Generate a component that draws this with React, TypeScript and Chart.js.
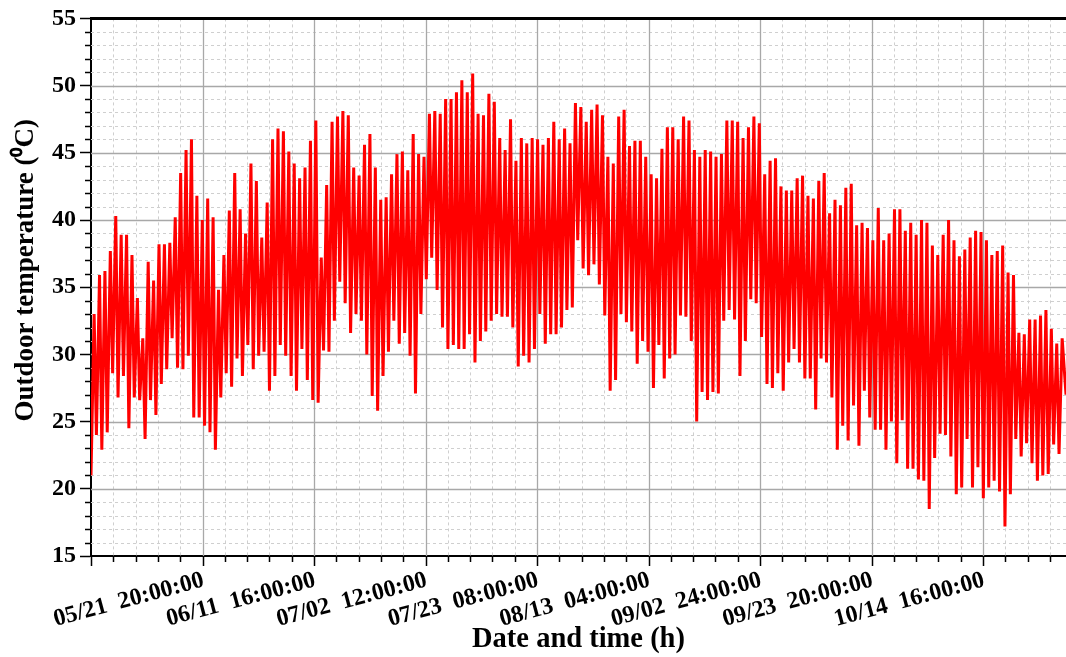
import React, { useEffect, useRef } from "react";
import { Chart, registerables } from "chart.js";

Chart.register(...registerables);

// ---- data ----
// one low (early morning) and one high (afternoon) per day, starting 05/21
const dailyLows = [
  21, 24, 22.9, 24.2, 28.6, 26.8, 28.4, 24.5, 26.8, 26.6, 23.7, 26.6, 25.5, 27.8, 28.9, 31.2, 29, 28.9, 29.9, 25.3,
  25.3, 24.7, 24.2, 22.9, 26.8, 28.6, 27.6, 29.7, 28.4, 30.7, 28.9, 29.9, 30.2, 27.3, 28.4, 30.7, 29.9, 28.4, 27.3, 30.4, 28.1, 26.6,
  26.4, 30.3, 30.2, 32.5, 35.4, 33.8, 31.6, 33, 32.5, 30, 26.9, 25.8, 28.4, 30.2, 32.5, 30.8, 31.6, 29.9, 27.1, 33, 35.6, 37.2,
  34.8, 32, 30.4, 30.7, 30.4, 30.4, 31.5, 29.4, 31, 31.7, 32.5, 33, 32.8, 32.8, 32, 29.1, 29.9, 29.4, 30.4, 33, 30.8, 31.5,
  31.5, 32, 33.3, 33.5, 38.5, 36.4, 35.9, 36.7, 35.2, 32.9, 27.3, 28.1, 33, 32.4, 31.7, 29.3, 31, 30.2, 27.5, 30.7, 28.2, 29.7,
  30, 32.9, 32.8, 31, 25, 27.2, 26.6, 27.2, 27.1, 32.5, 33.3, 32.6, 28.4, 31, 34.1, 33.8, 31.3, 27.8, 27.5, 28.6, 27.3, 29.4, 30.4,
  29.4, 28.2, 28.2, 25.9, 29.7, 29.4, 26.8, 22.9, 24.7, 23.6, 26.2, 23.2, 27.3, 25.3, 24.4, 24.4, 22.9, 25, 21.9, 25.1, 21.5, 21.5,
  20.7, 20.6, 18.5, 22.3, 24.1, 24, 22.4, 19.6, 20.1, 23.7, 20.1, 21.6, 19.3, 20.1, 20.6, 19.8, 17.2, 19.6, 23.7, 22.4, 23.4, 21.9,
  20.6, 21, 21.1, 23.3, 22.6,
];

const dailyHighs = [
  33, 35.9, 36.2, 37.7, 40.3, 38.9, 38.9, 37.4, 34.2, 31.2, 36.9, 35.5, 38.2, 38.2, 38.3, 40.2, 43.5, 45.2, 46, 41.8,
  40, 41.6, 40.2, 34.8, 37.4, 40.7, 43.5, 40.8, 39, 44.2, 42.9, 38.7, 41.3, 46, 46.8, 46.6, 45.1, 44.2, 43.1, 43.9, 45.9, 47.4,
  37.2, 42.6, 47.3, 47.7, 48.1, 47.8, 43.9, 43.3, 45.6, 46.4, 43.9, 41.5, 41.7, 43.4, 44.9, 45.1, 43.7, 46.4, 44.9, 44.7, 47.9, 48.1,
  47.9, 49, 49, 49.5, 50.4, 49.5, 50.9, 47.9, 47.8, 49.4, 48.8, 46.1, 45.2, 47.5, 44.4, 46.1, 45.7, 46.1, 46, 45.6, 46.1, 47.3,
  46, 46.8, 45.7, 48.7, 48.4, 47.3, 48.2, 48.6, 47.8, 44.7, 44.2, 47.7, 48.2, 45.5, 45.9, 45.9, 44.7, 43.4, 43.1, 45.3, 46.9, 46.9,
  46, 47.7, 47.4, 45.2, 44.7, 45.2, 45.1, 44.7, 44.9, 47.4, 47.4, 47.3, 46.1, 46.9, 47.7, 47.2, 43.4, 44.4, 44.6, 42.5, 42.2, 42.2, 43.1,
  43.3, 41.8, 41.6, 42.9, 43.5, 40.5, 41.5, 41.1, 42.4, 42.7, 39.6, 39.8, 39.4, 38.5, 40.9, 38.5, 39, 40.8, 40.8, 39.2, 39.8, 38.9,
  40, 39.8, 38.1, 37.4, 38.9, 40, 38.5, 37.3, 37.8, 38.7, 39.2, 39.1, 38.5, 37.4, 37.7, 38.1, 36.1, 35.9, 31.6, 31.5, 32.6, 32.6,
  32.9, 33.3, 31.9, 30.8, 31.2,
];

const END_TEMP = 27;

const xTickLabels = [
  "",
  "05/21  20:00:00",
  "06/11  16:00:00",
  "07/02  12:00:00",
  "07/23  08:00:00",
  "08/13  04:00:00",
  "09/02  24:00:00",
  "09/23  20:00:00",
  "10/14  16:00:00",
];

const X_MIN = 0;
const X_MAX = 4372;
const X_MAJOR = 500;
const X_MINOR = 100;
const Y_MIN = 15;
const Y_MAX = 55;
const Y_MAJOR = 5;
const Y_MINOR = 1;
const CYCLE_HOURS = 24.25;
const X_LABEL_ROTATION = 15;

const FONT = "'Liberation Serif', 'Times New Roman', serif";

function buildPoints() {
  const pts: { x: number; y: number }[] = [];
  const n = Math.min(dailyLows.length, dailyHighs.length);
  for (let d = 0; d < n; d++) {
    pts.push({ x: d * CYCLE_HOURS, y: dailyLows[d] });
    pts.push({ x: d * CYCLE_HOURS + 14, y: dailyHighs[d] });
  }
  pts.push({ x: X_MAX, y: END_TEMP });
  return pts;
}

const gridPlugin = {
  id: "customGrid",
  beforeDatasetsDraw(chart: any) {
    const { ctx, chartArea: a, scales } = chart;
    const x = scales.x;
    const y = scales.y;
    ctx.save();
    ctx.lineWidth = 1;
    ctx.strokeStyle = "#cfcfcf";
    ctx.setLineDash([3, 3]);
    ctx.beginPath();
    for (let h = X_MIN + X_MINOR; h < X_MAX; h += X_MINOR) {
      if (h % X_MAJOR === 0) continue;
      const px = Math.round(x.getPixelForValue(h)) + 0.5;
      ctx.moveTo(px, a.top);
      ctx.lineTo(px, a.bottom);
    }
    for (let v = Y_MIN + Y_MINOR; v < Y_MAX; v += Y_MINOR) {
      if (v % Y_MAJOR === 0) continue;
      const py = Math.round(y.getPixelForValue(v)) + 0.5;
      ctx.moveTo(a.left, py);
      ctx.lineTo(a.right, py);
    }
    ctx.stroke();
    ctx.setLineDash([]);
    ctx.strokeStyle = "#a8a8a8";
    ctx.lineWidth = 1.3;
    ctx.beginPath();
    for (let h = X_MIN + X_MAJOR; h < X_MAX; h += X_MAJOR) {
      const px = Math.round(x.getPixelForValue(h)) + 0.5;
      ctx.moveTo(px, a.top);
      ctx.lineTo(px, a.bottom);
    }
    for (let v = Y_MIN + Y_MAJOR; v < Y_MAX; v += Y_MAJOR) {
      const py = Math.round(y.getPixelForValue(v)) + 0.5;
      ctx.moveTo(a.left, py);
      ctx.lineTo(a.right, py);
    }
    ctx.stroke();
    ctx.restore();
  },
  afterDraw(chart: any) {
    const { ctx, chartArea: a, scales } = chart;
    const x = scales.x;
    const y = scales.y;
    ctx.save();
    ctx.strokeStyle = "#000";
    ctx.lineWidth = 1.5;
    ctx.beginPath();
    for (let h = X_MIN; h < X_MAX; h += X_MINOR) {
      const major = h % X_MAJOR === 0;
      const px = Math.round(x.getPixelForValue(h)) + 0.5;
      ctx.moveTo(px, a.bottom);
      ctx.lineTo(px, a.bottom + (major ? 10 : 6));
    }
    for (let v = Y_MIN + Y_MINOR; v < Y_MAX; v += Y_MINOR) {
      if (v % Y_MAJOR === 0) continue;
      const py = Math.round(y.getPixelForValue(v)) + 0.5;
      ctx.moveTo(a.left - 6, py);
      ctx.lineTo(a.left, py);
    }
    ctx.stroke();
    // thick top frame
    ctx.lineWidth = 3;
    ctx.beginPath();
    ctx.moveTo(a.left - 1, a.top);
    ctx.lineTo(a.right, a.top);
    ctx.stroke();
    // rotated x tick labels, right end anchored at each major tick
    ctx.fillStyle = "#000";
    ctx.font = `bold 24px ${FONT}`;
    ctx.textAlign = "right";
    ctx.textBaseline = "middle";
    for (let i = 0; i < xTickLabels.length; i++) {
      const label = xTickLabels[i];
      if (!label) continue;
      const px = x.getPixelForValue(i * X_MAJOR);
      ctx.save();
      ctx.translate(px + 1, a.bottom + 24);
      ctx.rotate((-X_LABEL_ROTATION * Math.PI) / 180);
      ctx.fillText(label, 0, 0);
      ctx.restore();
    }
    ctx.restore();
  },
};

export default function App() {
  const canvasRef = useRef<HTMLCanvasElement | null>(null);

  useEffect(() => {
    const canvas = canvasRef.current;
    if (!canvas) return;
    const chart = new Chart(canvas, {
      type: "line",
      data: {
        datasets: [
          {
            label: "Outdoor temperature",
            data: buildPoints(),
            borderColor: "#ff0000",
            borderWidth: 3,
            pointRadius: 0,
            tension: 0,
            fill: false,
          },
        ],
      },
      options: {
        responsive: false,
        animation: false,
        events: [],
        layout: { padding: { top: 15, right: 0, bottom: 0, left: 0 } },
        plugins: { legend: { display: false }, tooltip: { enabled: false } },
        scales: {
          x: {
            type: "linear",
            min: X_MIN,
            max: X_MAX,
            afterFit: (scale: any) => {
              scale.height = 101;
              scale.paddingRight = 0;
              scale.paddingLeft = 0;
            },
            grid: { display: false },
            border: { display: true, color: "#000", width: 2 },
            ticks: {
              display: false,
              stepSize: X_MAJOR,
              includeBounds: false,
            },
            title: {
              display: true,
              text: "Date and time (h)",
              color: "#000",
              font: { family: FONT, size: 28.5, weight: "bold" },
              padding: { top: 0, bottom: 0 },
            },
          },
          y: {
            type: "linear",
            min: Y_MIN,
            max: Y_MAX,
            afterFit: (scale: any) => {
              scale.width = 91;
            },
            grid: {
              display: true,
              drawOnChartArea: false,
              drawTicks: true,
              tickLength: 11,
              tickColor: "#000",
              tickWidth: 1.5,
            },
            border: { display: true, color: "#000", width: 2 },
            ticks: {
              stepSize: Y_MAJOR,
              padding: 4,
              color: "#000",
              font: { family: FONT, size: 24, weight: "bold" },
            },
            title: {
              display: true,
              text: "     Outdoor temperature (\u2070C)",
              color: "#000",
              font: { family: FONT, size: 27, weight: "bold" },
              padding: { top: 10, bottom: 0 },
            },
          },
        },
      },
      plugins: [gridPlugin],
    } as any);
    return () => chart.destroy();
  }, []);

  return (
    <div style={{ position: "absolute", left: 0, top: 0, width: 1066, height: 657, overflow: "hidden", background: "#fff" }}>
      <canvas ref={canvasRef} width={1066} height={657} style={{ display: "block" }} />
    </div>
  );
}
